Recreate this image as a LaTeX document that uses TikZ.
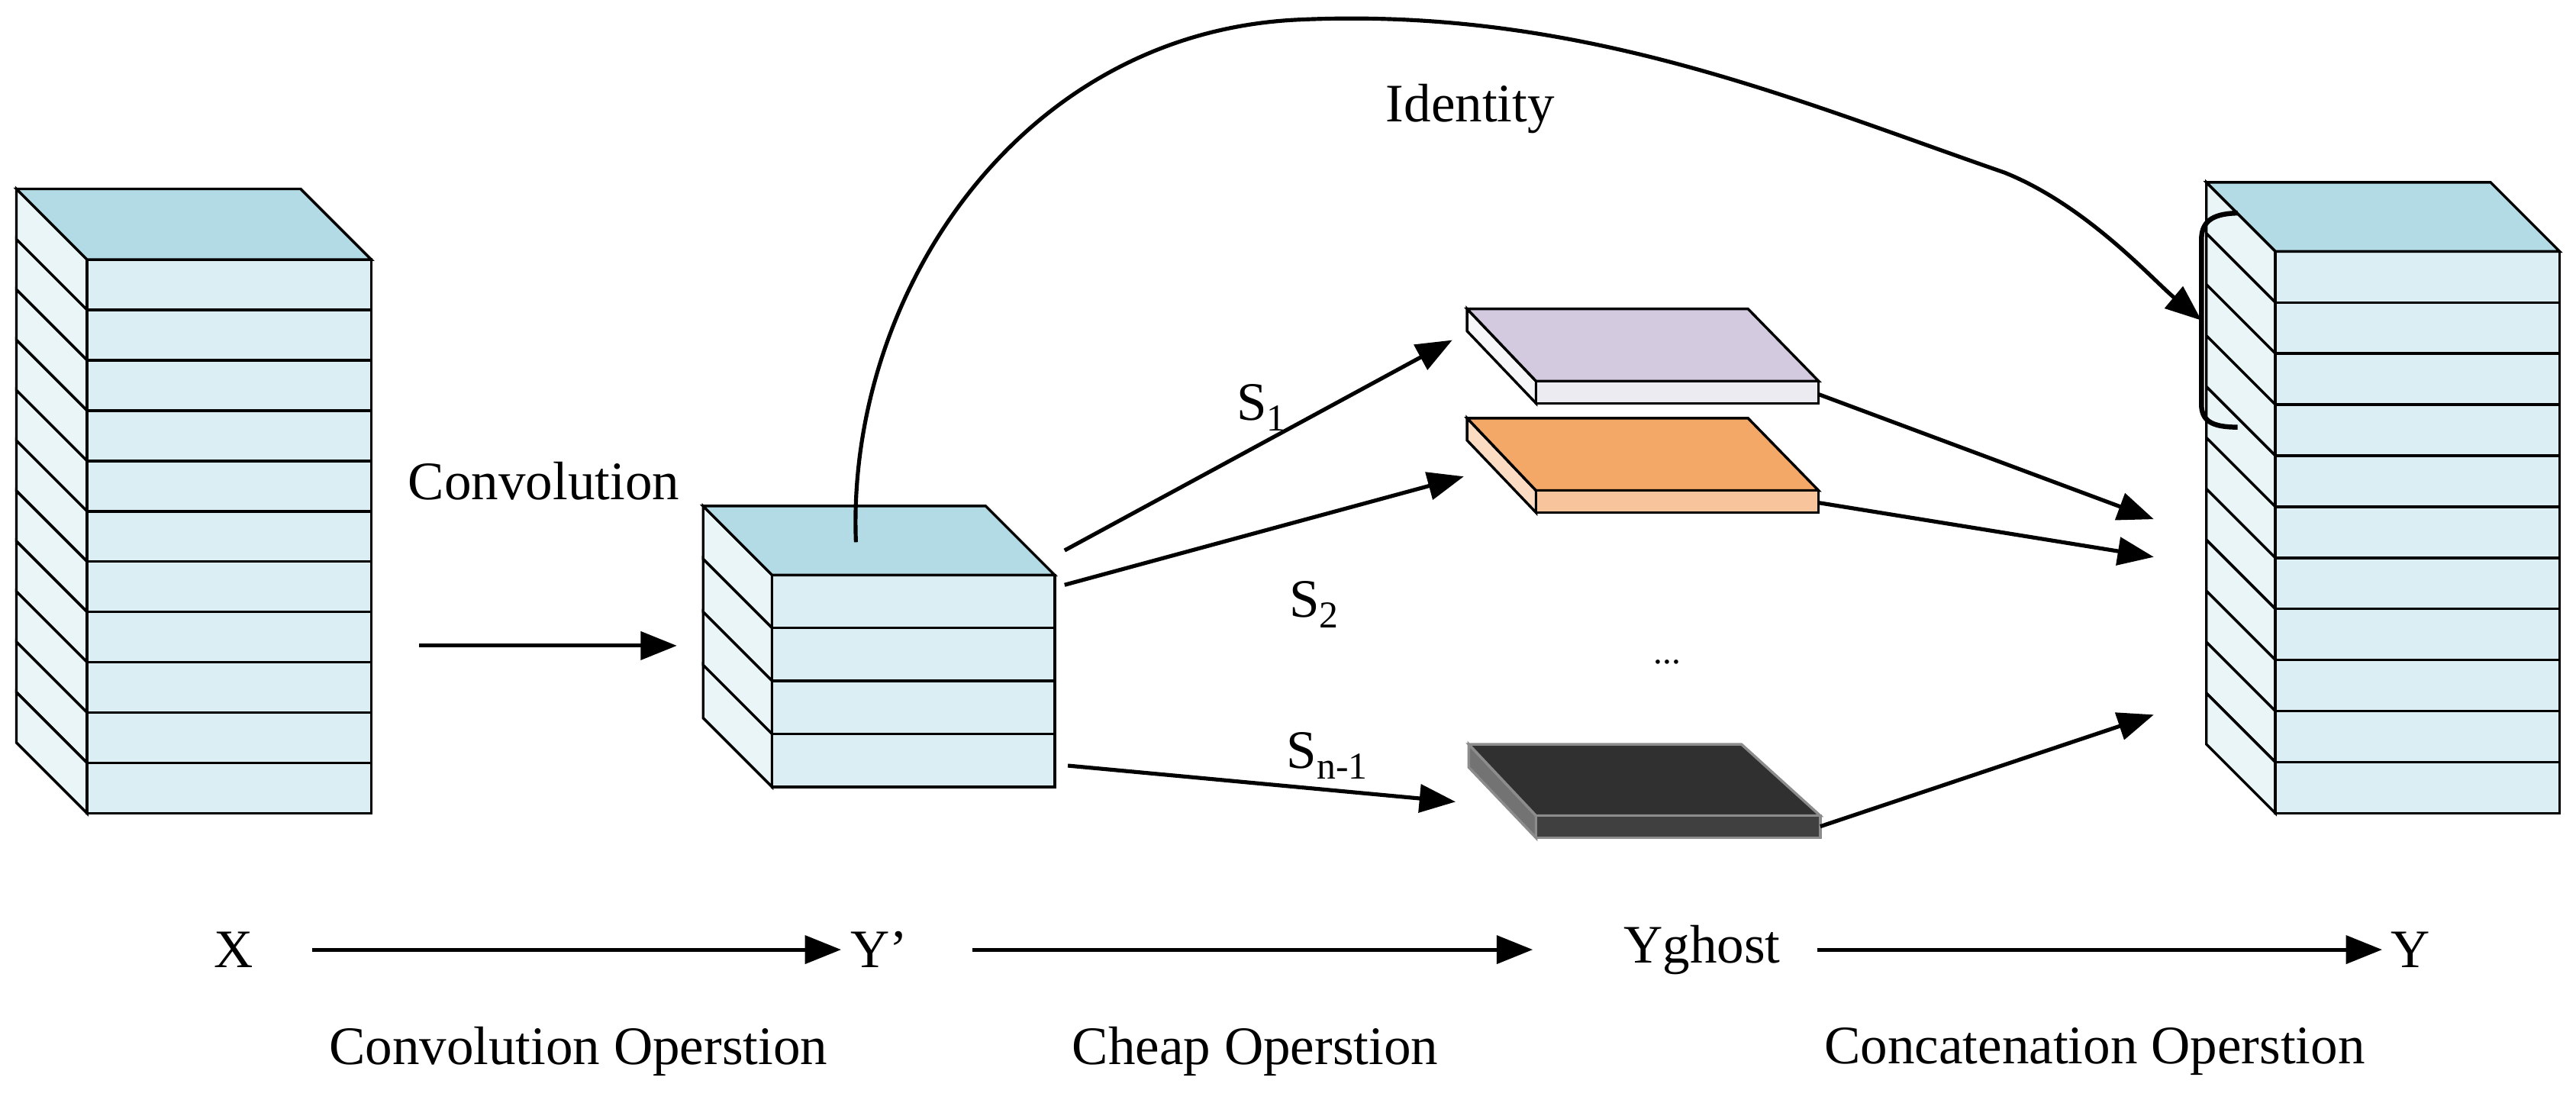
\documentclass[tikz,border=0pt]{standalone}
\usepackage{fontspec}
\setmainfont{Liberation Serif}
\usetikzlibrary{arrows.meta}
\definecolor{topc}{HTML}{B3DBE5}
\definecolor{frontc}{HTML}{DBEEF4}
\definecolor{sidec}{HTML}{EAF5F8}
\definecolor{pur}{HTML}{D3CAE0}\definecolor{purf}{HTML}{EDEBF2}
\definecolor{ora}{HTML}{F4A868}\definecolor{oraf}{HTML}{F8C49B}
\definecolor{blk}{HTML}{303030}\definecolor{blkf}{HTML}{404040}
\newcommand\mystack[6]{% L R top bottom n d
  \pgfmathsetmacro\hh{(#4-#3)/#5}
  \foreach \k in {1,...,#5}{
    \pgfmathsetmacro\yt{#3+(\k-1)*\hh}
    \pgfmathsetmacro\yb{#3+\k*\hh}
    \draw[face,fill=sidec] (#1,\yt) -- ++(-#6,-#6) -- (#1-#6,\yb-#6) -- (#1,\yb) -- cycle;
    \draw[face,fill=frontc] (#1,\yt) rectangle (#2,\yb);
  }
  \draw[face,fill=topc] (#1,#3) -- (#1-#6,#3-#6) -- (#2-#6,#3-#6) -- (#2,#3) -- cycle;
}
\begin{document}
\begin{tikzpicture}[x=1pt,y=-1pt,
  face/.style={draw=black,line width=1.6pt,line join=miter},
  arr/.style={line width=2.4pt,-{Triangle[length=22pt,width=17pt]}},
  lab/.style={font=\fontsize{33}{36}\selectfont,inner sep=0pt}]
\useasboundingbox (0,0) rectangle (1568,671);
\fill[white] (0,0) rectangle (1568,671);
% stacks
\mystack{53}{226}{158}{495}{11}{43}
\mystack{470}{642}{350}{479}{4}{42}
\mystack{1385}{1558}{153}{495}{11}{42}
% sheets
\draw[face,fill=purf!50!white] (893,188) -- (935,232) -- (935,245.5) -- (893,201.5) -- cycle;
\draw[face,fill=pur] (893,188) -- (1064,188) -- (1107,232) -- (935,232) -- cycle;
\draw[face,fill=purf] (935,232) rectangle (1107,245.5);
\draw[face,fill=oraf!60!white] (893,254.5) -- (935,298.6) -- (935,312) -- (893,268) -- cycle;
\draw[face,fill=ora] (893,254.5) -- (1064,254.5) -- (1107,298.6) -- (935,298.6) -- cycle;
\draw[face,fill=oraf] (935,298.6) rectangle (1107,312);
\begin{scope}[face/.append style={draw=gray!90}]
\draw[face,fill=black!55] (894,453) -- (935,496.5) -- (935,510) -- (894,467) -- cycle;
\draw[face,fill=blk] (894,453) -- (1060,453) -- (1108,496.5) -- (935,496.5) -- cycle;
\draw[face,fill=blkf] (935,496.5) rectangle (1108,510);
\end{scope}
% bracket
\draw[line width=3pt] (1362,129.7) .. controls (1345,130) and (1340,136) .. (1340,146) -- (1340,246) .. controls (1340,256) and (1346,260) .. (1362,260);
% named points
\coordinate (c0) at (255,393); \coordinate (c1) at (412,393);
\coordinate (id0) at (521,330); \coordinate (id1) at (1340,195);
\coordinate (s1a) at (648,335); \coordinate (s1b) at (884,207);
\coordinate (s2a) at (648,356); \coordinate (s2b) at (891,290);
\coordinate (s3a) at (650,466); \coordinate (s3b) at (886,488);
\coordinate (p0) at (1107,240); \coordinate (p1) at (1311,316);
\coordinate (o0) at (1107,306); \coordinate (o1) at (1311,339);
\coordinate (b0) at (1108,503); \coordinate (b1) at (1311,435);
\draw[arr] (c0) -- (c1);
\draw[arr] (id0) .. controls (515,180) and (620,20) .. (790,12) .. controls (960,4) and (1090,60) .. (1220,105) .. controls (1270,125) and (1310,170) .. (id1);
\draw[arr] (s1a) -- (s1b);
\draw[arr] (s2a) -- (s2b);
\draw[arr] (s3a) -- (s3b);
\draw[arr] (p0) -- (p1);
\draw[arr] (o0) -- (o1);
\draw[arr] (b0) -- (b1);
% labels
\node[lab] (conv) at (331,293) {Convolution};
\node[lab] (ident) at (895,66) {Identity};
\node[lab] (S1) at (768,248) {S\textsubscript{1}};
\node[lab] (S2) at (800,368) {S\textsubscript{2}};
\node[lab] (S3) at (808,460) {S\textsubscript{n-1}};
\node[font=\fontsize{22}{24}\selectfont] (dots) at (1015,403) {...};
\node[lab] (X) at (142,578) {X};
\node[lab] (Yp) at (535,578) {Y’};
\node[lab] (Yg) at (1036,578) {Yghost};
\node[lab] (Y) at (1467,578) {Y};
\coordinate (a0) at (190,578); \coordinate (a1) at (512,578);
\coordinate (a2) at (592,578); \coordinate (a3) at (933,578);
\coordinate (a4) at (1106,578); \coordinate (a5) at (1450,578);
\draw[arr] (a0) -- (a1);
\draw[arr] (a2) -- (a3);
\draw[arr] (a4) -- (a5);
\node[lab] (L1) at (352,640) {Convolution Operstion};
\node[lab] (L2) at (764,640) {Cheap Operstion};
\node[lab] (L3) at (1275,640) {Concatenation Operstion};
\end{tikzpicture}
\end{document}
